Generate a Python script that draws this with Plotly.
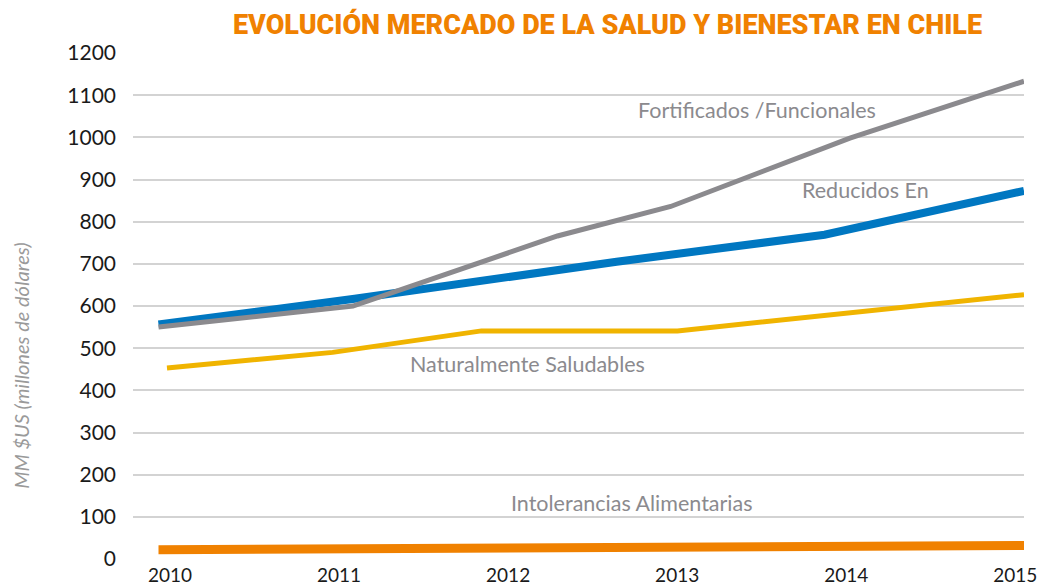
import plotly.graph_objects as go

# ---- data (x positions in years) ----
years = [2010, 2011, 2012, 2013, 2014, 2015]
year_labels = ["2010", "2011", "2012", "2013", "2014", "2015"]

fort_x = [2009.92, 2011.07, 2012.28, 2012.95, 2014.01, 2015.04]
fort_y = [550, 600, 766, 836, 998, 1133]

red_x = [2009.92, 2011.08, 2012.63, 2013.86, 2015.04]
red_y = [556, 617, 705, 769, 873]

nat_x = [2009.97, 2010.95, 2011.83, 2012.99, 2015.04]
nat_y = [453, 490, 541, 541, 627]

int_x = [2009.92, 2011.0, 2012.0, 2013.0, 2014.0, 2015.04]
int_y = [22, 24, 26, 28, 30, 32]

y_ticks = [0, 100, 200, 300, 400, 500, 600, 700, 800, 900, 1000, 1100, 1200]

series = [
    ("Intolerancias Alimentarias", int_x, int_y, "#F08100", 9),
    ("Naturalmente Saludables", nat_x, nat_y, "#F0B400", 5),
    ("Reducidos En", red_x, red_y, "#0077C1", 8),
    ("Fortificados /Funcionales", fort_x, fort_y, "#8B8A8E", 5),
]

fig = go.Figure()
for name, xs, ys, color, w in series:
    fig.add_trace(go.Scatter(x=xs, y=ys, mode="lines", name=name,
                             line=dict(color=color, width=w), hoverinfo="skip"))

label_font = dict(family="Lato, Open Sans, sans-serif", size=21.5, color="#8B8A8E")
labels = [
    ("Fortificados /Funcionales", 2013.46, 1066),
    ("Reducidos En", 2014.10, 876),
    ("Naturalmente Saludables", 2012.10, 463),
    ("Intolerancias Alimentarias", 2012.72, 133),
]
for text, x, y in labels:
    fig.add_annotation(text=text, x=x, y=y, xref="x", yref="y", showarrow=False,
                       font=label_font, xanchor="center", yanchor="middle")

fig.add_annotation(text="<i>MM $US (millones de dólares)</i>", xref="paper", yref="paper",
                   x=-0.1257, y=0.382, textangle=-90, showarrow=False,
                   font=dict(family="Lato, Open Sans, sans-serif", size=20, color="#9A9A9A"),
                   xanchor="center", yanchor="middle")

fig.update_layout(
    width=1037, height=587,
    margin=dict(l=133, r=13, t=53, b=28),
    paper_bgcolor="white", plot_bgcolor="white",
    showlegend=False,
    title=dict(text="EVOLUCIÓN MERCADO DE LA SALUD Y BIENESTAR EN CHILE",
               x=607.5 / 1037, xanchor="center", xref="container",
               y=1 - 24.5 / 587, yanchor="middle", yref="container",
               font=dict(family="Roboto, sans-serif", size=27, color="#F08100", weight=900)),
    xaxis=dict(range=[2009.769, 2015.04], tickvals=years, ticktext=year_labels,
               showgrid=False, zeroline=False, showline=False, ticks="",
               automargin=False, ticklabeloverflow="allow", ticklabelshift=-2,
               tickfont=dict(family="Lato, Open Sans, sans-serif", size=19, color="#1A1A1A"),
               ticklabelstandoff=3),
    yaxis=dict(range=[0, 1200], tickvals=y_ticks, showgrid=True, gridcolor="#D3D3D3",
               gridwidth=1.5, zeroline=False, showline=False, ticks="",
               automargin=False,
               tickfont=dict(family="Lato, Open Sans, sans-serif", size=21, color="#1A1A1A"),
               ticklabelstandoff=16),
)

fig.write_html("out.html", config={"displayModeBar": False},
               post_script="document.body.style.margin='0';")
